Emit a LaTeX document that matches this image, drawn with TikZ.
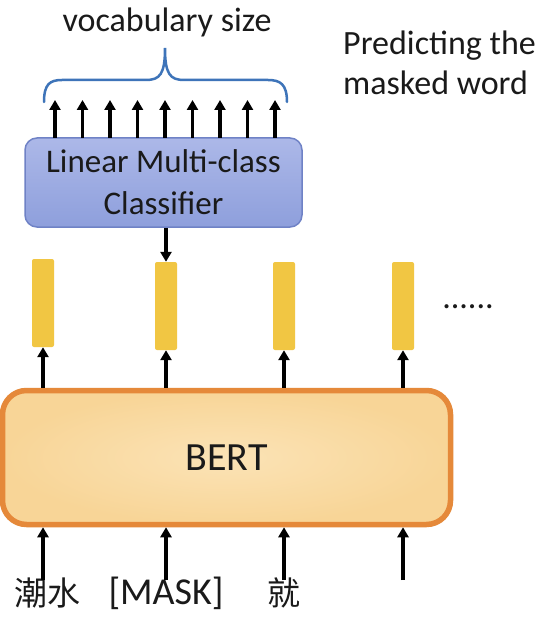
\documentclass[tikz,border=0pt]{standalone}
\usepackage{fontspec}
\setmainfont{Carlito}
\newfontfamily\cjk{Noto Sans CJK SC}
\usetikzlibrary{arrows.meta}
\definecolor{clsfill}{HTML}{8E9FDC}
\definecolor{clstop}{HTML}{ACB8E8}
\definecolor{clsdraw}{HTML}{6F82C6}
\definecolor{bertfill}{HTML}{F8D597}
\definecolor{berttop}{HTML}{FBE3B6}
\definecolor{bertdraw}{HTML}{E5893A}
\definecolor{vecfill}{HTML}{F1C643}
\definecolor{bracecol}{HTML}{3E74B9}
\definecolor{txt}{HTML}{1A1A1A}
\begin{document}
\begin{tikzpicture}[x=1pt,y=-1pt,
  arr/.style={draw=black,line width=3.5pt,-{Triangle[width=11pt,length=10pt]}},
  vec/.style={rectangle,rounded corners=2pt,fill=vecfill,minimum width=22pt,minimum height=88pt,inner sep=0pt},
  lbl/.style={text=txt,font=\fontsize{34}{38}\selectfont,inner sep=0pt}]
\useasboundingbox (0,0) rectangle (538,628);
\fill[white] (0,0) rectangle (538,628);
% classifier
\node (cls) [rectangle,rounded corners=12pt,top color=clstop,bottom color=clsfill,draw=clsdraw,line width=1.5pt,minimum width=277pt,minimum height=89pt,inner sep=0pt,align=center,text=txt,font=\fontsize{33}{42}\selectfont] at (163.5,182.5) {Linear Multi-class\\Classifier};
% bert
\node (bert) [rectangle,rounded corners=24pt,inner color=berttop,outer color=bertfill,draw=bertdraw,line width=5.5pt,minimum width=448pt,minimum height=134pt,inner sep=0pt,text=txt,font=\fontsize{40}{44}\selectfont] at (226.5,457.5) {BERT};
% vectors
\node (v1) [vec] at (43,303) {};
\node (v2) [vec] at (166,306) {};
\node (v3) [vec] at (284,306) {};
\node (v4) [vec] at (403,306) {};
\node (dots) [lbl] at (468,307) {......};
% output arrows
\foreach \i/\x in {1/55,2/82.5,3/110,4/137.5,5/165,6/192.5,7/220,8/247.5,9/275}{
  \coordinate (o\i) at (\x,100);
  \coordinate (s\i) at (\x,138);
  \draw[arr] (s\i) -- (o\i);
}
\draw[arr] (v2.north |- cls.south) -- (v2.north);
% bert to vectors
\foreach \v in {v1,v2,v3,v4}{
  \draw[arr] (\v.south |- bert.north) -- (\v.south);
}
% inputs
\node (w1) [text=txt,font=\cjk\fontsize{33}{36}\selectfont,inner sep=0pt] at (47,593) {潮水};
\node (w2) [lbl,font=\fontsize{38}{40}\selectfont] at (166,593) {[MASK]};
\node (w3) [text=txt,font=\cjk\fontsize{33}{36}\selectfont,inner sep=0pt] at (284,593) {就};
\foreach \i/\x in {1/43,2/166,3/284,4/403}{
  \coordinate (i\i) at (\x,580);
  \draw[arr] (i\i) -- (i\i |- bert.south);
}
% brace
\draw[bracecol,line width=2.5pt,line cap=round] (44,102) .. controls (44,84) and (50,80) .. (62,80) -- (146,80) .. controls (160,80) and (165,74) .. (165,48) .. controls (165,74) and (170,80) .. (184,80) -- (268,80) .. controls (280,80) and (287,84) .. (287,102);
\node (voc) [lbl] at (167,22) {vocabulary size};
\node (pred) [lbl,anchor=west,align=left,font=\fontsize{34}{40}\selectfont] at (343,63) {Predicting the\\masked word};
\end{tikzpicture}
\end{document}
